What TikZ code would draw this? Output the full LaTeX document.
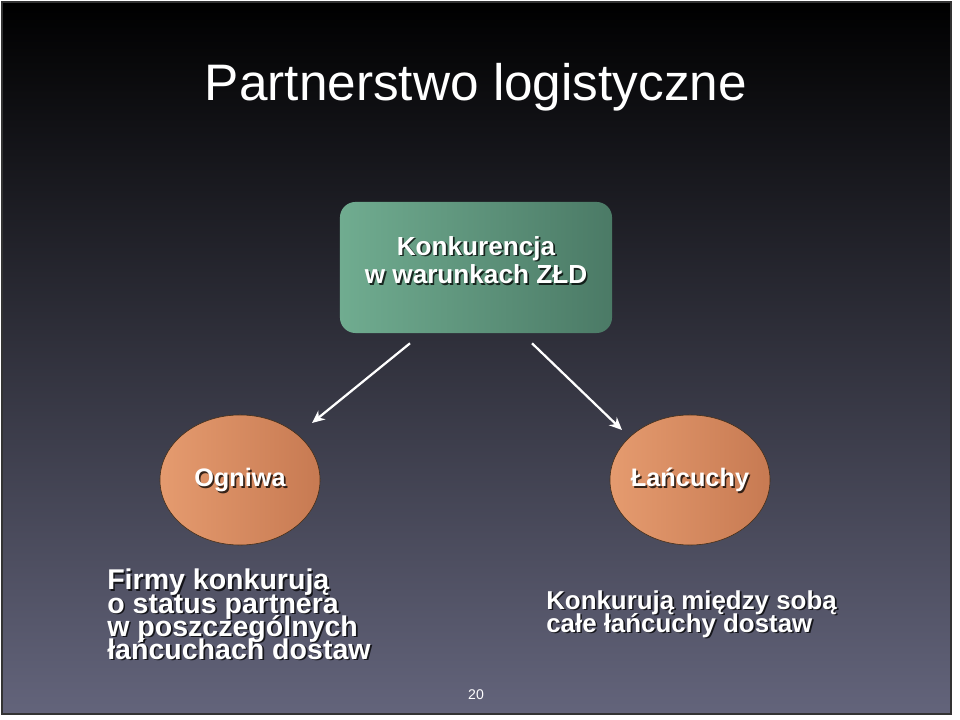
\documentclass[tikz,border=0pt]{standalone}
\usepackage{fontspec}
\setmainfont{Liberation Sans}
\usepackage{xcolor}
\usetikzlibrary{shapes,arrows,arrows.meta}
\usetikzlibrary{positioning}
\definecolor{slidemid}{HTML}{1F2143}
\definecolor{slidebot}{HTML}{63647B}
\definecolor{boxleft}{HTML}{70AC90}
\definecolor{boxright}{HTML}{4B7A66}
\definecolor{ovalleft}{HTML}{E59B6F}
\definecolor{ovalright}{HTML}{C77A52}
\newcommand{\tightlines}{\setlength{\lineskiplimit}{-20pt}}

\begin{document}
\begin{tikzpicture}[x=0.025cm, y=-0.025cm,
  every node/.style = {text=white, font=\bfseries, inner sep=0pt},
  box/.style = {rectangle, rounded corners=11pt,
    minimum width=6.8cm, minimum height=3.275cm,
    left color=boxleft, right color=boxright},
  oval/.style = {ellipse, minimum width=4cm, minimum height=3.25cm,
    draw=brown!35!black, left color=ovalleft, right color=ovalright},
  boxtxt/.style = {align=center, font=\bfseries\fontsize{18.6}{20}\selectfont},
  ovaltxt/.style = {font=\bfseries\fontsize{18}{20}\selectfont},
  leftdesc/.style = {anchor=north west, align=left,
    font=\bfseries\fontsize{20.3}{16.4}\selectfont\tightlines},
  rightdesc/.style = {anchor=north west, align=left,
    font=\bfseries\fontsize{18.4}{16.4}\selectfont\tightlines},
  shadowtxt/.style = {text=black, opacity=0.75, xshift=1.2pt, yshift=-1.2pt},
  arr/.style = {draw=white, line width=1.6pt, -{Stealth[length=9pt, width=8pt]}}]
  \useasboundingbox (0,0) rectangle (960,720);
  \fill[white] (0,0) rectangle (960,720);
  \shade[top color=black, middle color=slidemid, bottom color=slidebot]
    (2,2) rectangle (951,714);
  \draw[black!80, line width=0.8pt] (2,2) rectangle (951,714);

  \node[font=\fontsize{36.5}{40}\selectfont] (title) at (476,87) {Partnerstwo logistyczne};

  \node[box] (konk) at (476,267.5) {};
  \node[boxtxt, shadowtxt] at (476,260) {Konkurencja\\w warunkach ZŁD};
  \node[boxtxt] (konktxt) at (476,260) {Konkurencja\\w warunkach ZŁD};

  \node[oval] (ogniwa) at (240,480) {};
  \node[ovaltxt, shadowtxt] at (240,480) {Ogniwa};
  \node[ovaltxt] (ogniwatxt) at (240,480) {Ogniwa};

  \node[oval] (lanc) at (690,480) {};
  \node[ovaltxt, shadowtxt] at (690,480) {Łańcuchy};
  \node[ovaltxt] (lanctxt) at (690,480) {Łańcuchy};

  \draw[arr] ([xshift=-1.65cm, yshift=-0.25cm]konk.south)
    -- ([xshift=1.8cm, yshift=1.425cm]ogniwa.center);
  \draw[arr] ([xshift=1.4cm, yshift=-0.25cm]konk.south)
    -- ([xshift=-1.7cm, yshift=1.25cm]lanc.center);

  % opisy pod owalami
  \node[leftdesc, shadowtxt] at (107,569)
    {Firmy konkurują\\o status partnera\\w poszczególnych\\łańcuchach dostaw};
  \node[leftdesc] (firmy) at (107,569)
    {Firmy konkurują\\o status partnera\\w poszczególnych\\łańcuchach dostaw};
  \node[rightdesc, shadowtxt] at (546,590)
    {Konkurują między sobą\\całe łańcuchy dostaw};
  \node[rightdesc] (calel) at (546,590)
    {Konkurują między sobą\\całe łańcuchy dostaw};

  \node[text=white!85, font=\mdseries\fontsize{10}{12}\selectfont] (nr) at (476,695) {20};
\end{tikzpicture}
\end{document}
